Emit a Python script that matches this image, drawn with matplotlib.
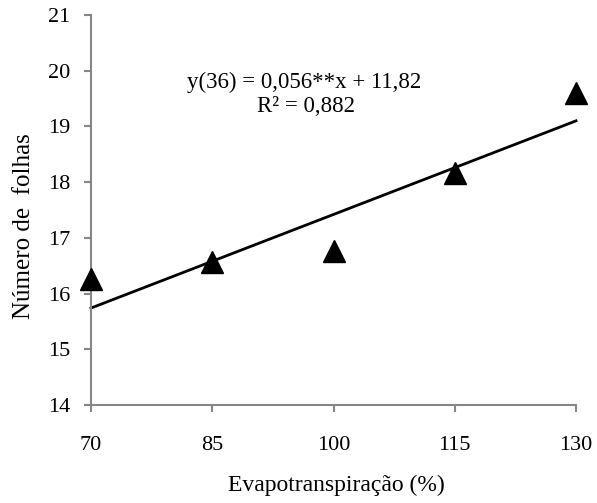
import matplotlib
matplotlib.use("Agg")
import matplotlib.pyplot as plt
import numpy as np

plt.rcParams['font.family'] = ['Liberation Serif', 'DejaVu Serif']

evap = [70, 85, 100, 115, 130]
folhas = [16.27, 16.56, 16.77, 18.17, 19.6]
slope = 0.056
intercept = 11.82
xticks = [70, 85, 100, 115, 130]
yticks = [14, 15, 16, 17, 18, 19, 20, 21]

W, H = 597, 503
fig = plt.figure(figsize=(W / 100, H / 100), dpi=100)
ax = fig.add_axes([91 / W, 1 - 405 / H, 485 / W, 390 / H])

ax.plot(evap, folhas, linestyle='none', marker='^', color='black', markersize=16, clip_on=False, zorder=3)
xl = np.array([evap[0], evap[-1]])
ax.plot(xl, slope * xl + intercept, color='black', linewidth=2, zorder=2, clip_on=False)

ax.set_xlim(70, 130)
ax.set_ylim(14, 21)
ax.set_xticks(xticks)
ax.set_yticks(yticks)
ax.set_xticklabels([str(v) for v in xticks])
ax.set_yticklabels([str(v) for v in yticks])

for s in ['top', 'right']:
    ax.spines[s].set_visible(False)
for s in ['left', 'bottom']:
    ax.spines[s].set_color('#868686')
    ax.spines[s].set_linewidth(1.5)
ax.tick_params(axis='both', colors='#868686', labelcolor='black', labelsize=16, width=1.5, length=5)
ax.tick_params(axis='x', pad=17)
ax.tick_params(axis='y', pad=10)

fig.text(336 / W, 1 - 485 / H, 'Evapotranspiração (%)', fontsize=17, ha='center', va='center')
fig.text(24 / W, 1 - 226 / H, 'Número de  folhas', fontsize=18, ha='center', va='center', rotation=90)

fig.text(304 / W, 1 - 82 / H, 'y(36) = 0,056**x + 11,82', fontsize=16.5, ha='center', va='center')
fig.text(306 / W, 1 - 107 / H, 'R² = 0,882', fontsize=16.5, ha='center', va='center')

fig.savefig('out.png', dpi=100)
